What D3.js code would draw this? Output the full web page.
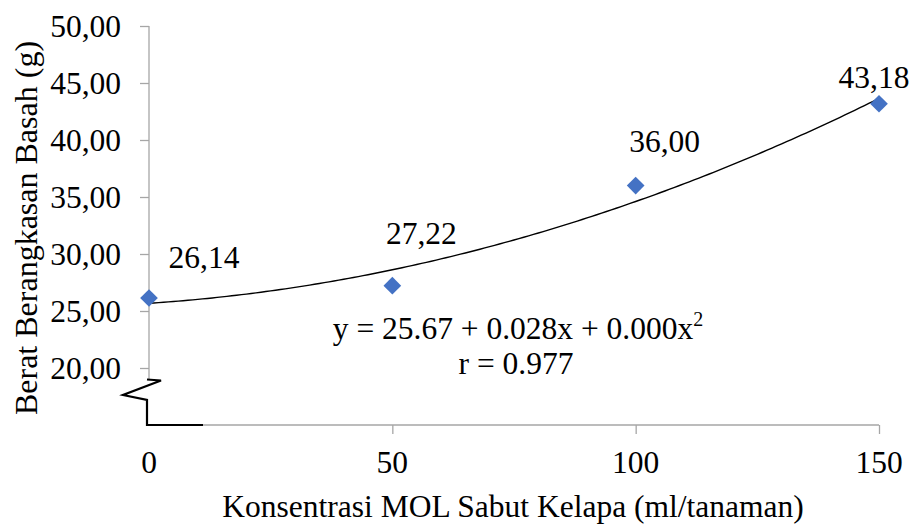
<!DOCTYPE html>
<html>
<head>
<meta charset="utf-8">
<script src="https://cdn.jsdelivr.net/npm/d3@7/dist/d3.min.js"></script>
<style>
  html, body { margin: 0; padding: 0; background: #fff; }
</style>
</head>
<body>
<svg id="chart" width="912" height="525"></svg>
<script>
// Concentration of coconut-husk MOL (ml/plant) and fresh plant weight (g)
const concentrations = [0, 50, 100, 150];
const weights = [26.14, 27.22, 36.00, 43.18];
const weightLabels = ["26,14", "27,22", "36,00", "43,18"];
const xTicks = [50, 100, 150];
const xTickLabels = ["0", "50", "100", "150"];
const xLabelTicks = [0, 50, 100, 150];
const yTicks = [20, 25, 30, 35, 40, 45, 50];
const yTickLabels = ["20,00", "25,00", "30,00", "35,00", "40,00", "45,00", "50,00"];
const labelOffsets = [[55, -30], [29, -42], [29, -34], [-5, -16]];

const FONT = '"Liberation Serif"';
const fontSize = 31.5;
const svg = d3.select("#chart");
const serif = sel => sel.style("font-family", FONT).attr("font-size", fontSize).attr("fill", "#000");

const x = d3.scaleLinear().domain([0, 150]).range([149, 879]);
const y = d3.scaleLinear().domain([15, 50]).range([425, 26]);

// least-squares quadratic fit of the observed weights
function fitQuadratic(xs, ys) {
  const n = xs.length;
  const S = k => d3.sum(xs, v => Math.pow(v, k));
  const T = k => d3.sum(xs.map((v, i) => Math.pow(v, k) * ys[i]));
  const A = [[n, S(1), S(2)], [S(1), S(2), S(3)], [S(2), S(3), S(4)]];
  const b = [T(0), T(1), T(2)];
  for (let i = 0; i < 3; i++) {
    for (let j = i + 1; j < 3; j++) {
      const f = A[j][i] / A[i][i];
      for (let k = i; k < 3; k++) A[j][k] -= f * A[i][k];
      b[j] -= f * b[i];
    }
  }
  const c = [0, 0, 0];
  for (let i = 2; i >= 0; i--) {
    let s = b[i];
    for (let k = i + 1; k < 3; k++) s -= A[i][k] * c[k];
    c[i] = s / A[i][i];
  }
  return c;
}
const coef = fitQuadratic(concentrations, weights);
const trend = d3.range(0, 150.5, 1).map(v => [v, coef[0] + coef[1] * v + coef[2] * v * v]);

// y axis (gray), stopping at the break
const yAxis = d3.axisLeft(y).tickValues(yTicks).tickSize(9).tickFormat((d, i) => yTickLabels[i]);
const gy = svg.append("g").attr("transform", `translate(${x(0)},0)`).call(yAxis);
gy.select(".domain").remove();
gy.selectAll(".tick line").attr("stroke", "#a6a6a6").attr("stroke-width", 1.3);
gy.selectAll(".tick text").call(serif).attr("x", -28).attr("dy", "0.34em");
svg.append("line").attr("x1", x(0)).attr("x2", x(0)).attr("y1", y(50)).attr("y2", 380)
  .attr("stroke", "#a6a6a6").attr("stroke-width", 1.3);

// x axis (gray)
const xAxis = d3.axisBottom(x).tickValues(xTicks).tickSize(9).tickFormat("");
const gx = svg.append("g").attr("transform", `translate(0,${y(15)})`).call(xAxis);
gx.select(".domain").attr("d", `M${x(0)},0H${x(150)}`).attr("stroke", "#a6a6a6").attr("stroke-width", 1.3);
gx.selectAll(".tick line").attr("stroke", "#a6a6a6").attr("stroke-width", 1.3);

svg.append("g").selectAll("text").data(xLabelTicks).join("text")
  .attr("x", d => x(d)).attr("y", 473).attr("text-anchor", "middle")
  .call(serif).text((d, i) => xTickLabels[i]);

// axis break symbol
const bx = x(0);
svg.append("path")
  .attr("d", `M${bx - 2},379.5 L${bx + 12},380.5 L${bx - 26},395 L${bx - 2},400 L${bx - 2},425 L${bx + 54},425`)
  .attr("fill", "none").attr("stroke", "#000").attr("stroke-width", 2.2);

// trendline
svg.append("path").datum(trend)
  .attr("d", d3.line().x(d => x(d[0])).y(d => y(d[1])))
  .attr("fill", "none").attr("stroke", "#000").attr("stroke-width", 1.4);

// data markers
svg.append("g").selectAll("path").data(concentrations).join("path")
  .attr("transform", (d, i) => `translate(${x(d)},${y(weights[i])})`)
  .attr("d", d3.symbol().type(d3.symbolDiamond2).size(200))
  .attr("fill", "#4472c4");

// value labels
svg.append("g").selectAll("text").data(concentrations).join("text")
  .attr("x", (d, i) => x(d) + labelOffsets[i][0])
  .attr("y", (d, i) => y(weights[i]) + labelOffsets[i][1])
  .attr("text-anchor", "middle").call(serif)
  .text((d, i) => weightLabels[i]);

// regression equation
const eq = svg.append("text").attr("x", 518).attr("y", 339).attr("text-anchor", "middle").call(serif);
eq.append("tspan").text("y = 25.67 + 0.028x + 0.000x");
eq.append("tspan").attr("font-size", 20).attr("dy", -13).text("2");
svg.append("text").attr("x", 516).attr("y", 374).attr("text-anchor", "middle")
  .call(serif).text("r = 0.977");

// axis titles
svg.append("text").attr("x", 513).attr("y", 517).attr("text-anchor", "middle")
  .call(serif).text("Konsentrasi MOL Sabut Kelapa (ml/tanaman)");
svg.append("text").attr("transform", "translate(37,228) rotate(-90)").attr("text-anchor", "middle")
  .call(serif).attr("font-size", 32).text("Berat Berangkasan Basah (g)");
</script>
</body>
</html>
